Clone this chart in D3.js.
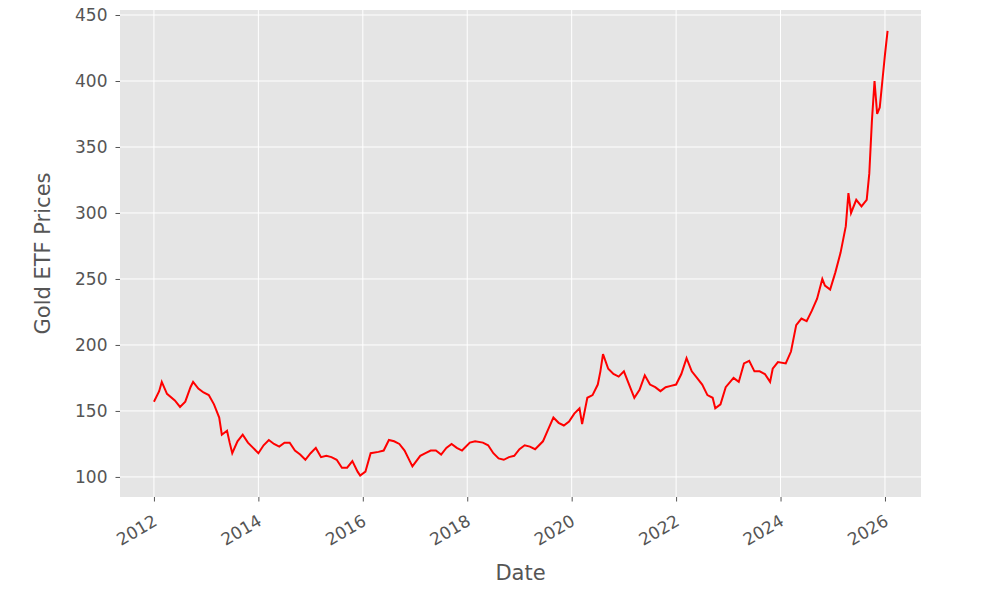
<!DOCTYPE html>
<html><head><meta charset="utf-8">
<script src="https://cdn.jsdelivr.net/npm/d3@7"></script>
<style>body{margin:0;background:#fff}text{font-family:"DejaVu Sans",sans-serif}</style>
</head><body>
<script>
// decimal year, price
var years = [2012.0,2012.1,2012.15,2012.25,2012.4,2012.5,2012.6,2012.7,2012.75,2012.85,2012.95,2013.05,2013.15,2013.25,2013.3,2013.4,2013.45,2013.5,2013.6,2013.7,2013.8,2013.9,2014.0,2014.1,2014.2,2014.3,2014.4,2014.5,2014.6,2014.7,2014.8,2014.9,2015.0,2015.1,2015.2,2015.3,2015.4,2015.5,2015.6,2015.7,2015.8,2015.9,2015.95,2016.05,2016.15,2016.3,2016.4,2016.5,2016.6,2016.7,2016.8,2016.9,2016.95,2017.1,2017.2,2017.3,2017.4,2017.5,2017.6,2017.7,2017.8,2017.9,2018.05,2018.15,2018.3,2018.4,2018.5,2018.6,2018.7,2018.8,2018.9,2019.0,2019.1,2019.2,2019.3,2019.45,2019.55,2019.65,2019.75,2019.85,2019.95,2020.05,2020.15,2020.2,2020.3,2020.4,2020.5,2020.55,2020.6,2020.7,2020.8,2020.9,2021.0,2021.1,2021.2,2021.3,2021.4,2021.5,2021.6,2021.7,2021.8,2021.9,2022.0,2022.1,2022.2,2022.3,2022.4,2022.5,2022.6,2022.7,2022.75,2022.85,2022.95,2023.1,2023.2,2023.3,2023.4,2023.5,2023.6,2023.7,2023.8,2023.85,2023.95,2024.1,2024.2,2024.3,2024.4,2024.5,2024.6,2024.7,2024.8,2024.85,2024.95,2025.05,2025.15,2025.25,2025.3,2025.35,2025.45,2025.55,2025.65,2025.7,2025.75,2025.8,2025.85,2025.9,2025.95,2026.0,2026.05];
var prices = [157,165,172,163,158,153,157,168,172,167,164,162,155,145,132,135,126,118,127,132,126,122,118,124,128,125,123,126,126,120,117,113,118,122,115,116,115,113,107,107,112,104,101,104,118,119,120,128,127,125,120,112,108,116,118,120,120,117,122,125,122,120,126,127,126,124,118,114,113,115,116,121,124,123,121,127,136,145,141,139,142,148,152,140,160,162,170,180,193,182,178,176,180,170,160,166,177,170,168,165,168,169,170,178,190,180,175,170,162,160,152,155,168,175,172,186,188,180,180,178,172,182,187,186,195,215,220,218,226,235,250,245,242,255,270,290,315,300,310,305,310,330,370,400,375,380,400,420,438];
var xTicks = [2012,2014,2016,2018,2020,2022,2024,2026];
var yTicks = [100,150,200,250,300,350,400,450];

var margin = {top: 10, right: 87, bottom: 96, left: 120},
    width = 1008 - margin.left - margin.right,
    height = 593 - margin.top - margin.bottom;

var x = d3.scaleLinear().domain([2011.35, 2026.69]).range([0, width]);
var y = d3.scaleLinear().domain([84.8, 453.8]).range([height, 0]);

var svg = d3.select("body").append("svg")
    .attr("width", 1008).attr("height", 593)
    .append("g")
    .attr("transform", "translate(" + margin.left + "," + margin.top + ")");

svg.append("rect").attr("width", width).attr("height", height).attr("fill", "#e5e5e5");

svg.selectAll(".gx").data(xTicks).enter().append("line")
    .attr("x1", d => x(d)).attr("x2", d => x(d)).attr("y1", 0).attr("y2", height)
    .attr("stroke", "#fff").attr("stroke-width", 1);
svg.selectAll(".gy").data(yTicks).enter().append("line")
    .attr("y1", d => y(d)).attr("y2", d => y(d)).attr("x1", 0).attr("x2", width)
    .attr("stroke", "#fff").attr("stroke-width", 1);

var xAxis = svg.append("g").attr("transform", "translate(0," + height + ")")
    .call(d3.axisBottom(x).tickValues(xTicks).tickFormat(d3.format("d")).tickSize(4.5));
xAxis.selectAll("text").attr("y", 0).attr("dy", "0.71em")
    .attr("transform", "translate(-2,17) rotate(-30)").style("text-anchor", "end");
var yAxis = svg.append("g").call(d3.axisLeft(y).tickValues(yTicks).tickSize(4.5).tickPadding(8));
[xAxis, yAxis].forEach(function(a) {
  a.select(".domain").remove();
  a.selectAll("line").attr("stroke", "#555");
  a.selectAll("text").attr("fill", "#555").style("font-size", "17px");
});

var pts = years.map((d, i) => [d, prices[i]]);
svg.append("path").datum(pts)
    .attr("fill", "none").attr("stroke", "red").attr("stroke-width", 2)
    .attr("d", d3.line().x(d => x(d[0])).y(d => y(d[1])));

svg.append("text").attr("x", width / 2).attr("y", height + 83).attr("text-anchor", "middle")
    .attr("fill", "#555").style("font-size", "21px").text("Date");
svg.append("text").attr("transform", "rotate(-90)").attr("x", -height / 2).attr("y", -70)
    .attr("text-anchor", "middle").attr("fill", "#555").style("font-size", "21px").text("Gold ETF Prices");
</script>
</body></html>
